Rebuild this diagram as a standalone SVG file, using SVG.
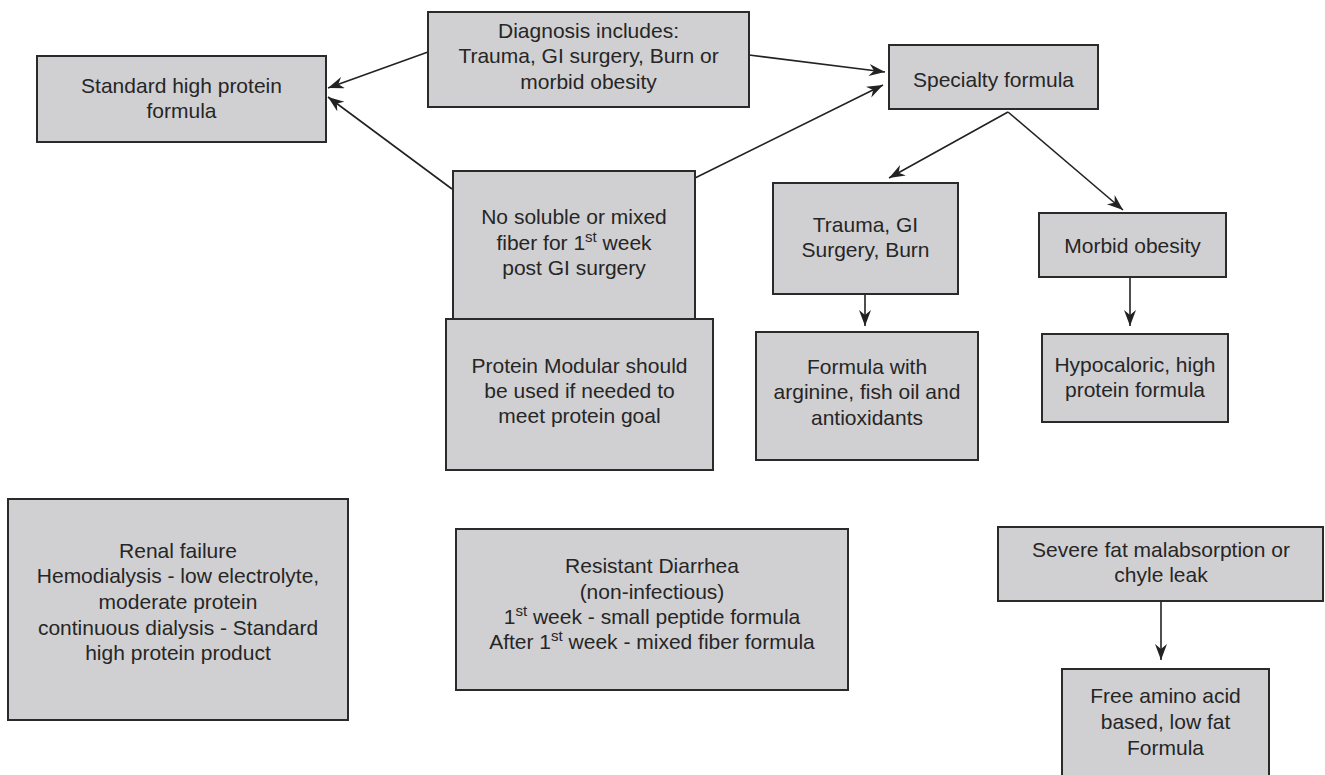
<svg xmlns="http://www.w3.org/2000/svg" width="1325" height="775" viewBox="0 0 1325 775">
<defs>
<style>
.box{fill:#d0d0d2;stroke:#2a2a2a;stroke-width:2}
.t{font-family:"Liberation Sans",Arial,sans-serif;font-size:21px;fill:#262626;text-anchor:middle}
.sup{font-size:15px}
.c{stroke:#222;stroke-width:1.6;fill:none;marker-end:url(#ah)}
</style>
<marker id="ah" markerUnits="userSpaceOnUse" markerWidth="18" markerHeight="14" refX="16" refY="6" orient="auto">
<path d="M0,0 L16,6 L0,12 L5,6 Z" fill="#222"/>
</marker>
</defs>
<rect width="1325" height="775" fill="#fff"/>
<g id="connectors">
<line class="c" x1="428" y1="52" x2="328" y2="88"/>
<line class="c" x1="452" y1="189" x2="328" y2="97"/>
<line class="c" x1="749" y1="55" x2="885" y2="72"/>
<line class="c" x1="695" y1="178" x2="883" y2="85"/>
<line class="c" x1="1008" y1="112" x2="889" y2="178"/>
<line class="c" x1="1008" y1="112" x2="1123" y2="210"/>
<line class="c" x1="865" y1="294" x2="865" y2="326"/>
<line class="c" x1="1130" y1="277" x2="1130" y2="326"/>
<line class="c" x1="1161" y1="601" x2="1161" y2="660"/>
</g>
<g id="standard">
<rect class="box" x="37" y="56" width="289" height="86"/>
<text class="t" x="181.5" y="93">Standard high protein</text>
<text class="t" x="181.5" y="118">formula</text>
</g>
<g id="diagnosis">
<rect class="box" x="428" y="12" width="321" height="95"/>
<text class="t" x="588.5" y="38">Diagnosis includes:</text>
<text class="t" x="588.5" y="63">Trauma, GI surgery, Burn or</text>
<text class="t" x="588.5" y="89">morbid obesity</text>
</g>
<g id="specialty">
<rect class="box" x="889" y="45" width="209" height="64"/>
<text class="t" x="993.5" y="87">Specialty formula</text>
</g>
<g id="nofiber">
<rect class="box" x="453" y="171" width="242" height="148"/>
<text class="t" x="574" y="224">No soluble or mixed</text>
<text class="t" x="574" y="250">fiber for 1<tspan class="sup" dy="-8">st</tspan><tspan dy="8"> week</tspan></text>
<text class="t" x="574" y="275">post GI surgery</text>
</g>
<g id="protein-modular">
<rect class="box" x="446" y="319" width="267" height="151"/>
<text class="t" x="579.5" y="373">Protein Modular should</text>
<text class="t" x="579.5" y="398">be used if needed to</text>
<text class="t" x="579.5" y="423">meet protein goal</text>
</g>
<g id="trauma">
<rect class="box" x="773" y="183" width="185" height="111"/>
<text class="t" x="865.5" y="232">Trauma, GI</text>
<text class="t" x="865.5" y="257">Surgery, Burn</text>
</g>
<g id="arginine">
<rect class="box" x="756" y="332" width="222" height="128"/>
<text class="t" x="867" y="374">Formula with</text>
<text class="t" x="867" y="399">arginine, fish oil and</text>
<text class="t" x="867" y="425">antioxidants</text>
</g>
<g id="morbid">
<rect class="box" x="1039" y="213" width="187" height="64"/>
<text class="t" x="1132.5" y="253">Morbid obesity</text>
</g>
<g id="hypocaloric">
<rect class="box" x="1042" y="334" width="186" height="88"/>
<text class="t" x="1135" y="372">Hypocaloric, high</text>
<text class="t" x="1135" y="397">protein formula</text>
</g>
<g id="renal">
<rect class="box" x="8" y="499" width="340" height="221"/>
<text class="t" x="178" y="558">Renal failure</text>
<text class="t" x="178" y="583">Hemodialysis - low electrolyte,</text>
<text class="t" x="178" y="609">moderate protein</text>
<text class="t" x="178" y="635">continuous dialysis - Standard</text>
<text class="t" x="178" y="660">high protein product</text>
</g>
<g id="diarrhea">
<rect class="box" x="456" y="529" width="392" height="161"/>
<text class="t" x="652" y="573">Resistant Diarrhea</text>
<text class="t" x="652" y="599">(non-infectious)</text>
<text class="t" x="652" y="624">1<tspan class="sup" dy="-8">st</tspan><tspan dy="8"> week - small peptide formula</tspan></text>
<text class="t" x="652" y="649">After 1<tspan class="sup" dy="-8">st</tspan><tspan dy="8"> week - mixed fiber formula</tspan></text>
</g>
<g id="fat">
<rect class="box" x="998" y="527" width="325" height="74"/>
<text class="t" x="1161" y="557">Severe fat malabsorption or</text>
<text class="t" x="1161" y="582">chyle leak</text>
</g>
<g id="aminoacid">
<rect class="box" x="1062" y="669" width="207" height="130"/>
<text class="t" x="1165.5" y="703">Free amino acid</text>
<text class="t" x="1165.5" y="729">based, low fat</text>
<text class="t" x="1165.5" y="755">Formula</text>
</g>
</svg>
